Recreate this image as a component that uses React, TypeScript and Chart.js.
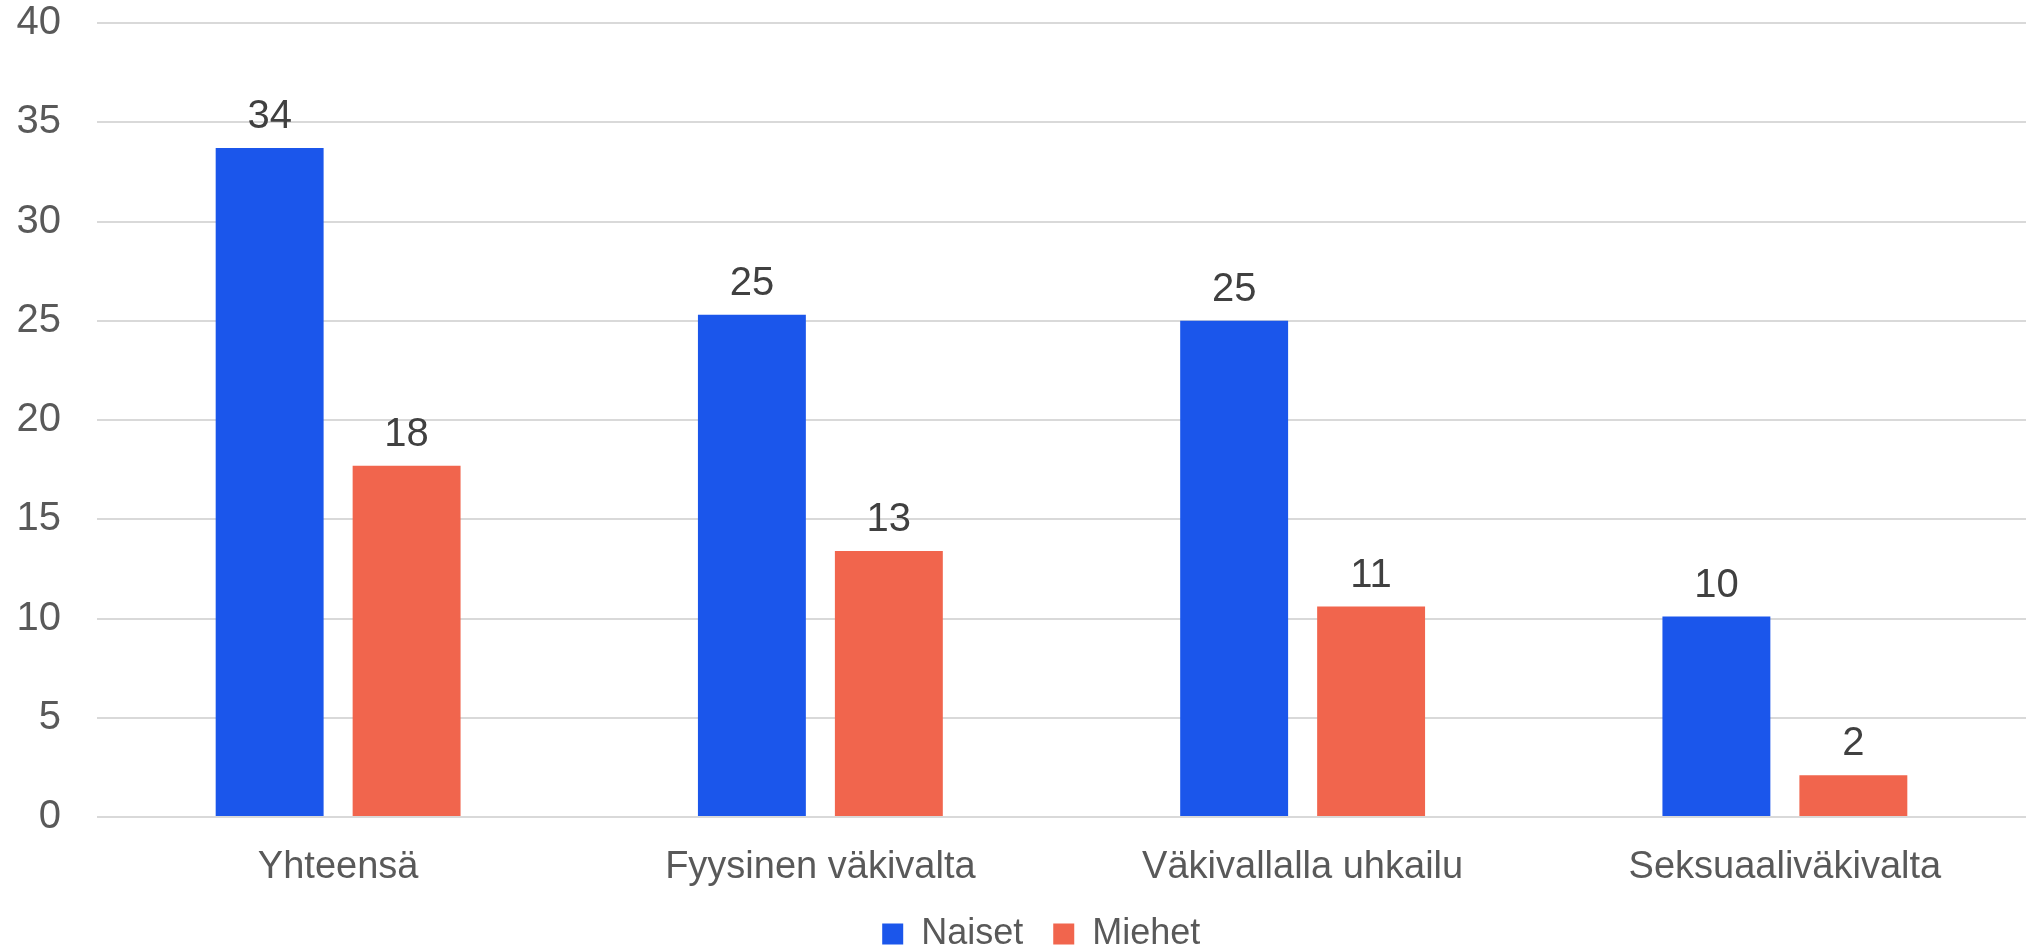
import React, { useEffect, useRef } from "react";
import { Chart, registerables } from "chart.js";

Chart.register(...registerables);

const categories = ["Yhteensä", "Fyysinen väkivalta", "Väkivallalla uhkailu", "Seksuaaliväkivalta"];
const naiset = [33.7, 25.3, 25.0, 10.1];
const miehet = [17.7, 13.4, 10.6, 2.1];
const seriesNames = ["Naiset", "Miehet"];
const yTicks = { min: 0, max: 40, step: 5 };
const FONT = "'Liberation Sans', Arial, sans-serif";

const dataLabelPlugin = {
  id: "dataLabels",
  afterDatasetsDraw(chart: any) {
    const ctx = chart.ctx;
    ctx.save();
    ctx.font = `40px ${FONT}`;
    ctx.fillStyle = "#404040";
    ctx.textAlign = "center";
    ctx.textBaseline = "alphabetic";
    chart.data.datasets.forEach((ds: any, i: number) => {
      const meta = chart.getDatasetMeta(i);
      meta.data.forEach((bar: any, j: number) => {
        const v = ds.data[j];
        ctx.fillText(String(Math.round(v)), bar.x, bar.y - 20);
      });
    });
    ctx.restore();
  },
};

// centre the legend on the plot area rather than the whole canvas
const legendCenterPlugin = {
  id: "legendCenter",
  afterLayout(chart: any) {
    const l = chart.legend;
    if (!l) return;
    const plotCenter = (chart.chartArea.left + chart.chartArea.right) / 2;
    const legendCenter = (l.left + l.right) / 2;
    const shift = (plotCenter - legendCenter) / 2;
    l.left += shift;
    l.right += shift;
  },
};

export default function App() {
  const ref = useRef<HTMLCanvasElement>(null);
  useEffect(() => {
    document.body.style.margin = "0";
    const chart = new Chart(ref.current!, {
      type: "bar",
      data: {
        labels: categories,
        datasets: [
          { label: seriesNames[0], data: naiset, backgroundColor: "#1B56EB" },
          { label: seriesNames[1], data: miehet, backgroundColor: "#F1654D" },
        ],
      },
      options: {
        responsive: false,
        animation: false,
        layout: { padding: { left: 16, right: 0, top: 23, bottom: 0 } },
        datasets: {
          bar: { categoryPercentage: 0.568, barPercentage: 0.788 },
        },
        plugins: {
          legend: {
            position: "bottom",
            maxHeight: 65,
            labels: {
              boxWidth: 21,
              boxHeight: 21,
              padding: 30,
              color: "#595959",
              font: { family: FONT, size: 36 },
            },
          },
          tooltip: { enabled: false },
        },
        scales: {
          x: {
            grid: { display: false, drawTicks: false },
            border: { display: false },
            ticks: { color: "#595959", font: { family: FONT, size: 38 }, padding: 28 },
            afterFit: (s: any) => {
              s.height = 69;
            },
          },
          y: {
            min: yTicks.min,
            max: yTicks.max,
            grid: { color: "#D9D9D9", lineWidth: 2, drawTicks: false },
            border: { display: false },
            ticks: { stepSize: yTicks.step, color: "#595959", font: { family: FONT, size: 40 }, padding: 36 },
            afterFit: (s: any) => {
              s.width = 81;
              s.paddingTop = 0;
              s.paddingBottom = 0;
            },
          },
        },
      },
      plugins: [dataLabelPlugin, legendCenterPlugin],
    });
    return () => chart.destroy();
  }, []);
  return (
    <div style={{ width: 2026, height: 951 }}>
      <canvas ref={ref} width={2026} height={951} />
    </div>
  );
}
